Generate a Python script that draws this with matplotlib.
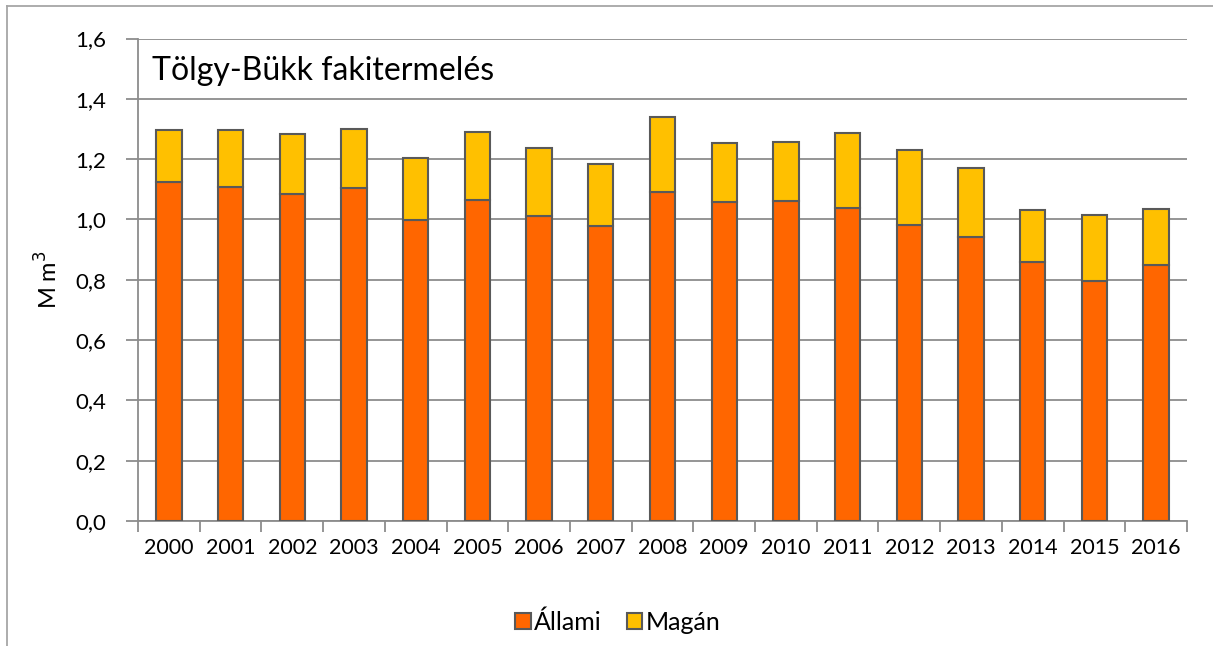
import numpy as np
import matplotlib
matplotlib.use("Agg")
from matplotlib import pyplot as plt
from matplotlib.lines import Line2D

plt.rcParams['font.family'] = ['Lato', 'DejaVu Sans']

years = ['2000', '2001', '2002', '2003', '2004', '2005', '2006', '2007', '2008',
         '2009', '2010', '2011', '2012', '2013', '2014', '2015', '2016']
allami = [1.123, 1.109, 1.086, 1.104, 0.997, 1.065, 1.011, 0.978, 1.090,
          1.058, 1.062, 1.037, 0.983, 0.943, 0.858, 0.795, 0.849]
osszes = [1.295, 1.295, 1.282, 1.301, 1.205, 1.291, 1.237, 1.183, 1.341,
          1.253, 1.258, 1.287, 1.231, 1.169, 1.032, 1.015, 1.034]
magan = [t - a for t, a in zip(osszes, allami)]
yticks = [0.0, 0.2, 0.4, 0.6, 0.8, 1.0, 1.2, 1.4, 1.6]
ytick_labels = ['0,0', '0,2', '0,4', '0,6', '0,8', '1,0', '1,2', '1,4', '1,6']

c_allami = '#FF6600'
c_magan = '#FFC000'
edge = '#595959'
grid_c = '#8C8C8C'

fig = plt.figure(figsize=(12.13, 6.46), dpi=100)
ax = fig.add_axes([138 / 1213, 1 - 521 / 646, (1187 - 138) / 1213, (521 - 38.5) / 646])

x = np.arange(len(years))
ax.bar(x, allami, width=0.41, color=c_allami, edgecolor=edge, linewidth=1.5,
       label='Állami', zorder=3)
ax.bar(x, magan, bottom=allami, width=0.41, color=c_magan, edgecolor=edge,
       linewidth=1.5, label='Magán', zorder=3)

ax.set_xlim(-0.5, len(years) - 0.5)
ax.set_ylim(0, 1.6)
ax.set_yticks(yticks)
ax.set_yticklabels(ytick_labels, fontsize=16)
ax.yaxis.grid(True, color=grid_c, linewidth=1.3, zorder=0)

# category boundaries as tick marks, labels in the middle
ax.set_xticks(np.arange(len(years) + 1) - 0.5)
ax.set_xticklabels([])
ax.set_xticks(x, minor=True)
ax.set_xticklabels(years, minor=True, fontsize=15.5)
ax.tick_params(axis='x', which='major', length=8, color=grid_c, width=1.3)
ax.tick_params(axis='x', which='minor', length=0, pad=12)
ax.tick_params(axis='y', length=9, color=grid_c, width=1.3, pad=14)

for s in ['top', 'right']:
    ax.spines[s].set_visible(False)
for s in ['left', 'bottom']:
    ax.spines[s].set_color(grid_c)
    ax.spines[s].set_linewidth(1.3)

ax.set_ylabel('M m$^3$', fontsize=17, labelpad=10)

ax.text(151.7 / 1213, 1 - 80 / 646, 'Tölgy-Bükk fakitermelés', transform=fig.transFigure,
        fontsize=23, va='baseline', ha='left')

leg = fig.legend(loc='center', bbox_to_anchor=(618 / 1213, 1 - 622 / 646), ncol=2,
                 frameon=False, fontsize=18, handlelength=0.62, handleheight=0.62,
                 handletextpad=0.15, columnspacing=1.0)

# outer chart frame
fig.add_artist(Line2D([7 / 1213, 7 / 1213], [0, 1 - 6 / 646], color='#A6A6A6', lw=1.3))
fig.add_artist(Line2D([7 / 1213, 1], [1 - 6 / 646, 1 - 6 / 646], color='#A6A6A6', lw=1.3))

plt.savefig('out.png', dpi=100)
